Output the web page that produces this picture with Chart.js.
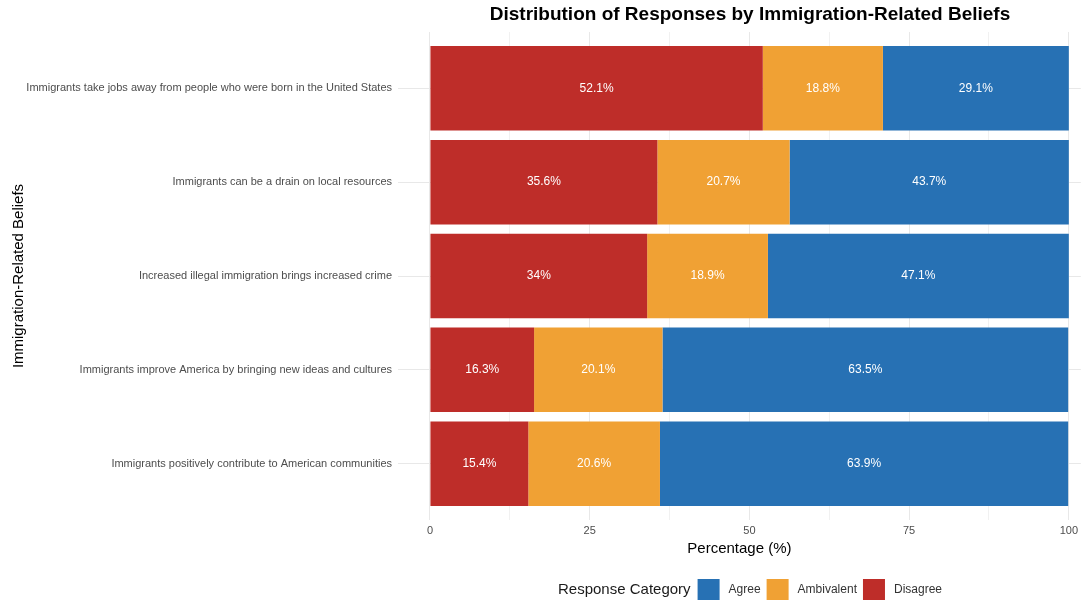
<!DOCTYPE html>
<html>
<head>
<meta charset="utf-8">
<script src="https://cdn.jsdelivr.net/npm/chart.js@4"></script>
<style>
  body { margin: 0; background: #fff; }
  #wrap { width: 1082px; height: 600px; position: relative; }
</style>
</head>
<body>
<div id="wrap"><canvas id="chart"></canvas></div>
<script>
// beliefs, top to bottom
const beliefs = [
    "Immigrants take jobs away from people who were born in the United States",
    "Immigrants can be a drain on local resources",
    "Increased illegal immigration brings increased crime",
    "Immigrants improve America by bringing new ideas and cultures",
    "Immigrants positively contribute to American communities"
];
const disagree = [52.1, 35.6, 34, 16.3, 15.4];
const ambivalent = [18.8, 20.7, 18.9, 20.1, 20.6];
const agree = [29.1, 43.7, 47.1, 63.5, 63.9];
const xTicks = [0, 12.5, 25, 37.5, 50, 62.5, 75, 87.5, 100];

const FONT = "'Liberation Sans', Arial, sans-serif";

function points(values) {
    return values.map((v, i) => ({ x: v, y: i }));
}

// white % labels in the middle of each segment
const segmentLabels = {
    id: "segmentLabels",
    afterDatasetsDraw(chart) {
        const ctx = chart.ctx;
        ctx.save();
        ctx.fillStyle = "#ffffff";
        ctx.font = "12px " + FONT;
        ctx.textAlign = "center";
        ctx.textBaseline = "middle";
        chart.data.datasets.forEach((ds, di) => {
            chart.getDatasetMeta(di).data.forEach((bar, i) => {
                const p = bar.getProps(["x", "y", "base"], true);
                ctx.fillText(ds.data[i].x + "%", (p.x + p.base) / 2, p.y);
            });
        });
        ctx.restore();
    }
};

// title centred over the panel and ggplot-style legend at the bottom
const titleAndLegend = {
    id: "titleAndLegend",
    afterDraw(chart) {
        const ctx = chart.ctx;
        const cx = 750;
        ctx.save();
        ctx.fillStyle = "#000";
        ctx.font = "bold 19px " + FONT;
        ctx.textAlign = "center";
        ctx.textBaseline = "middle";
        ctx.fillText("Distribution of Responses by Immigration-Related Beliefs", cx, 15);

        const items = chart.data.datasets.slice().reverse();
        const legendTitle = "Response Category";
        const y = 590;
        ctx.font = "15px " + FONT;
        const titleW = ctx.measureText(legendTitle).width;
        ctx.font = "12px " + FONT;
        const widths = items.map(d => ctx.measureText(d.label).width);
        const box = 22, gapTitle = 7, gapText = 9, gapItem = 6;
        let total = titleW + gapTitle;
        widths.forEach((w, i) => { total += box + gapText + w + (i < widths.length - 1 ? gapItem : 0); });
        let x = cx - total / 2;
        ctx.textAlign = "left";
        ctx.fillStyle = "#1a1a1a";
        ctx.font = "15px " + FONT;
        ctx.fillText(legendTitle, x, y);
        x += titleW + gapTitle;
        ctx.font = "12px " + FONT;
        items.forEach((d, i) => {
            ctx.fillStyle = d.backgroundColor;
            ctx.fillRect(x, y - box / 2, box, box);
            x += box + gapText;
            ctx.fillStyle = "#333";
            ctx.fillText(d.label, x, y);
            x += widths[i] + gapItem;
        });
        ctx.restore();
    }
};

new Chart(document.getElementById("chart"), {
    type: "bar",
    data: {
        datasets: [
            { label: "Disagree", data: points(disagree), backgroundColor: "#BE2D29" },
            { label: "Ambivalent", data: points(ambivalent), backgroundColor: "#F0A134" },
            { label: "Agree", data: points(agree), backgroundColor: "#2771B4" }
        ]
    },
    options: {
        indexAxis: "y",
        responsive: true,
        maintainAspectRatio: false,
        animation: false,
        categoryPercentage: 0.9,
        barPercentage: 1,
        layout: { padding: { top: 32, bottom: 39, left: 0, right: 0 } },
        plugins: {
            legend: { display: false },
            title: { display: false },
            tooltip: { enabled: false }
        },
        scales: {
            x: {
                type: "linear",
                stacked: true,
                min: -5,
                max: 101.875,
                afterBuildTicks: scale => { scale.ticks = xTicks.map(v => ({ value: v })); },
                afterFit: scale => { scale.height = 41; },
                ticks: {
                    autoSkip: false,
                    maxRotation: 0,
                    padding: 4,
                    color: "#4d4d4d",
                    font: { family: FONT, size: 11 },
                    callback: v => (v % 25 === 0 ? v : "")
                },
                grid: {
                    drawTicks: false,
                    color: "#e8e8e8",
                    lineWidth: ctx => (ctx.tick && ctx.tick.value % 25 === 0 ? 1 : 0.6)
                },
                border: { display: false },
                title: {
                    display: true,
                    text: "Percentage (%)",
                    color: "#000",
                    font: { family: FONT, size: 15 },
                    padding: { top: 3, bottom: 3 }
                }
            },
            y: {
                type: "linear",
                stacked: true,
                reverse: true,
                offset: false,
                min: -0.6,
                max: 4.6,
                afterBuildTicks: scale => { scale.ticks = beliefs.map((b, i) => ({ value: i })); },
                afterFit: scale => { scale.width = 398; },
                ticks: {
                    autoSkip: false,
                    padding: 6,
                    color: "#4d4d4d",
                    font: { family: FONT, size: 11 },
                    callback: v => beliefs[v]
                },
                grid: { offset: false, drawTicks: false, color: "#e8e8e8", lineWidth: 1 },
                border: { display: false },
                title: {
                    display: true,
                    text: "Immigration-Related Beliefs",
                    color: "#000",
                    font: { family: FONT, size: 15 },
                    padding: { top: 10, bottom: 0 }
                }
            }
        }
    },
    plugins: [segmentLabels, titleAndLegend]
});
</script>
</body>
</html>
